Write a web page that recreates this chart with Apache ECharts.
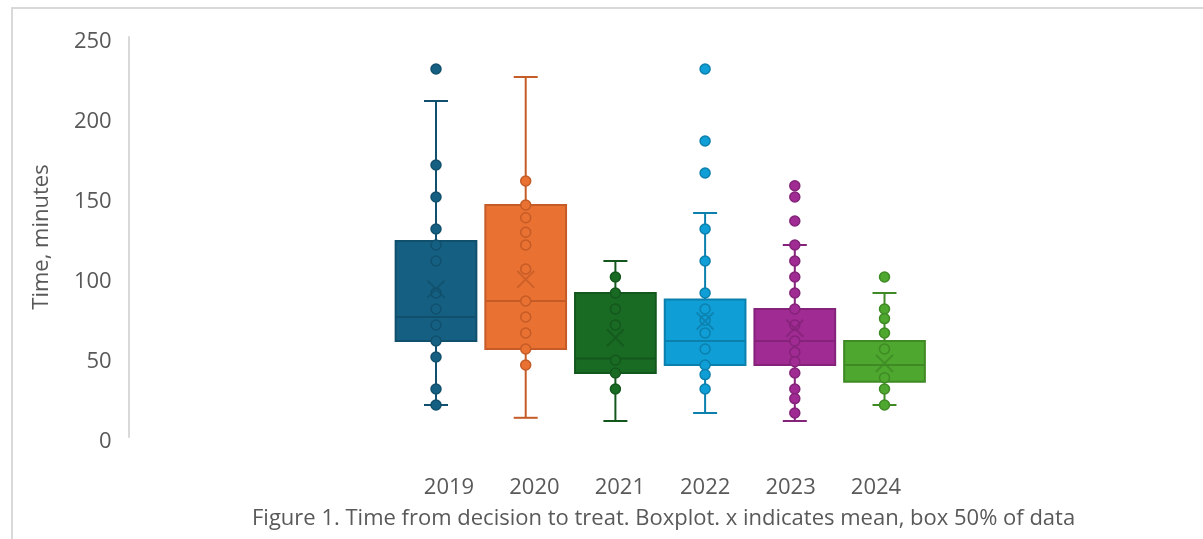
<!DOCTYPE html>
<html>
<head>
<meta charset="utf-8">
<script src="https://cdn.jsdelivr.net/npm/echarts@6/dist/echarts.min.js"></script>
<style>
  html, body { margin: 0; padding: 0; background: #fff; }
  #wrap { position: relative; width: 1203px; height: 539px; }
  #chart { position: absolute; left: 0; top: 0; width: 1203px; height: 539px; }
  #frame { position: absolute; left: 11px; top: 7px; right: 0; bottom: 0;
           border-top: 2px solid #d9d9d9; border-left: 2px solid #d9d9d9; pointer-events: none; }
</style>
</head>
<body>
<div id="wrap">
  <div id="chart"></div>
  <div id="frame"></div>
</div>
<script>
const years = ["2019", "2020", "2021", "2022", "2023", "2024"];

// five-number summary
const boxMin = [20, 12, 10, 15, 10, 20];
const boxQ1 = [60, 55, 40, 45, 45, 34.5];
const boxMedian = [75, 85, 49, 60, 60, 45];
const boxQ3 = [122.5, 145, 90, 86, 80, 60];
const boxMax = [210, 225, 110, 140, 120, 90];
const means = [92.5, 98.5, 62, 72.5, 68, 46];

// individual points per year
const points2019 = [230, 170, 150, 130, 120, 110, 90, 80, 70, 60, 50, 30, 20];
const points2020 = [160, 145, 137, 128, 120, 105, 85, 75, 65, 55, 45];
const points2021 = [100, 90, 80, 70, 48, 40, 30];
const points2022 = [230, 185, 165, 130, 110, 90, 80, 73, 65, 55, 45, 39, 30];
const points2023 = [157, 150, 135, 120, 110, 100, 90, 80, 70, 60, 53, 47, 40, 30, 24, 15];
const points2024 = [100, 80, 74, 65, 55, 37, 30, 20];
const pointsByYear = [points2019, points2020, points2021, points2022, points2023, points2024];

const fills = ["#156082", "#E97132", "#196B24", "#0F9ED5", "#A02B93", "#4EA72E"];
const edges = ["#11506d", "#c55c27", "#14571d", "#0c80ad", "#85237a", "#3f8a25"];

const textColor = "#595959";
const font = "'Open Sans', 'Noto Sans', sans-serif";

const chart = echarts.init(document.getElementById("chart"), null, { renderer: "canvas" });

const boxData = years.map((y, i) => [i, boxMin[i], boxQ1[i], boxMedian[i], boxQ3[i], boxMax[i]]);

function renderBox(params, api) {
  const i = api.value(0);
  const x = api.coord([i, 0])[0];
  const yy = (v) => api.coord([i, v])[1];
  const bw = api.size([1, 0])[0] * 0.9;
  const cap = 24;
  const fill = fills[i];
  const edge = edges[i];
  const lineStyle = { stroke: edge, lineWidth: 2 };
  const yMin = yy(api.value(1)), yQ1 = yy(api.value(2)), yMed = yy(api.value(3));
  const yQ3 = yy(api.value(4)), yMax = yy(api.value(5));
  return {
    type: "group",
    children: [
      { type: "line", shape: { x1: x, y1: yQ3, x2: x, y2: yMax }, style: lineStyle },
      { type: "line", shape: { x1: x, y1: yQ1, x2: x, y2: yMin }, style: lineStyle },
      { type: "line", shape: { x1: x - cap / 2, y1: yMax, x2: x + cap / 2, y2: yMax }, style: lineStyle },
      { type: "line", shape: { x1: x - cap / 2, y1: yMin, x2: x + cap / 2, y2: yMin }, style: lineStyle },
      { type: "rect", shape: { x: x - bw / 2, y: yQ3, width: bw, height: yQ1 - yQ3 },
        style: { fill: fill, stroke: edge, lineWidth: 2 } },
      { type: "line", shape: { x1: x - bw / 2, y1: yMed, x2: x + bw / 2, y2: yMed }, style: lineStyle }
    ]
  };
}

const pointSeries = pointsByYear.map((pts, i) => ({
  type: "scatter",
  name: years[i],
  xAxisIndex: 1,
  yAxisIndex: 1,
  z: 3,
  symbolSize: 10,
  itemStyle: { color: fills[i], borderColor: edges[i], borderWidth: 1.5, opacity: 1 },
  data: pts.map((v) => [i, v]),
  silent: true
}));

const option = {
  backgroundColor: "#fff",
  animation: false,
  textStyle: { fontFamily: font },
  title: {
    text: "Figure 1. Time from decision to treat. Boxplot. x indicates mean, box 50% of data",
    left: 247,
    top: 503,
    textStyle: { color: textColor, fontSize: 22, fontWeight: "normal", fontFamily: font }
  },
  grid: [
    { left: 128.7, top: 37, height: 400, right: 20 },
    { left: 391.15, top: 37, height: 400, right: 273.65 },
    { left: 406.3, top: 37, height: 400, right: 284.3 }
  ],
  xAxis: [
    { gridIndex: 0, type: "category", data: years, show: false },
    { gridIndex: 1, type: "category", data: years, show: false },
    {
      gridIndex: 2, type: "category", data: years,
      axisLine: { show: false }, axisTick: { show: false },
      axisLabel: { color: textColor, fontSize: 22, margin: 40, fontFamily: font }
    }
  ],
  yAxis: [
    {
      gridIndex: 0, type: "value", min: 0, max: 250, interval: 50,
      name: "Time, minutes", nameLocation: "middle", nameGap: 76, nameRotate: 90,
      nameTextStyle: { color: textColor, fontSize: 22, fontFamily: font },
      axisLine: { show: true, lineStyle: { color: "#d9d9d9", width: 2 } },
      axisTick: { show: false },
      splitLine: { show: false },
      axisLabel: {
        color: textColor, fontSize: 22, margin: 17, fontFamily: font,
        verticalAlign: "top", lineHeight: 10
      }
    },
    { gridIndex: 1, type: "value", min: 0, max: 250, show: false, splitLine: { show: false } },
    { gridIndex: 2, type: "value", min: 0, max: 250, show: false, splitLine: { show: false } }
  ],
  series: [
    {
      type: "custom",
      xAxisIndex: 1,
      yAxisIndex: 1,
      z: 2,
      renderItem: renderBox,
      encode: { x: 0, y: [1, 2, 3, 4, 5] },
      data: boxData,
      silent: true
    },
    ...pointSeries,
    {
      type: "scatter",
      name: "mean",
      xAxisIndex: 1,
      yAxisIndex: 1,
      z: 4,
      symbol: "path://M0,0L10,10M10,0L0,10",
      symbolSize: 17,
      data: means.map((m, i) => ({
        value: [i, m],
        itemStyle: { color: "transparent", borderColor: edges[i], borderWidth: 2 }
      })),
      silent: true
    }
  ]
};

chart.setOption(option);
</script>
</body>
</html>
